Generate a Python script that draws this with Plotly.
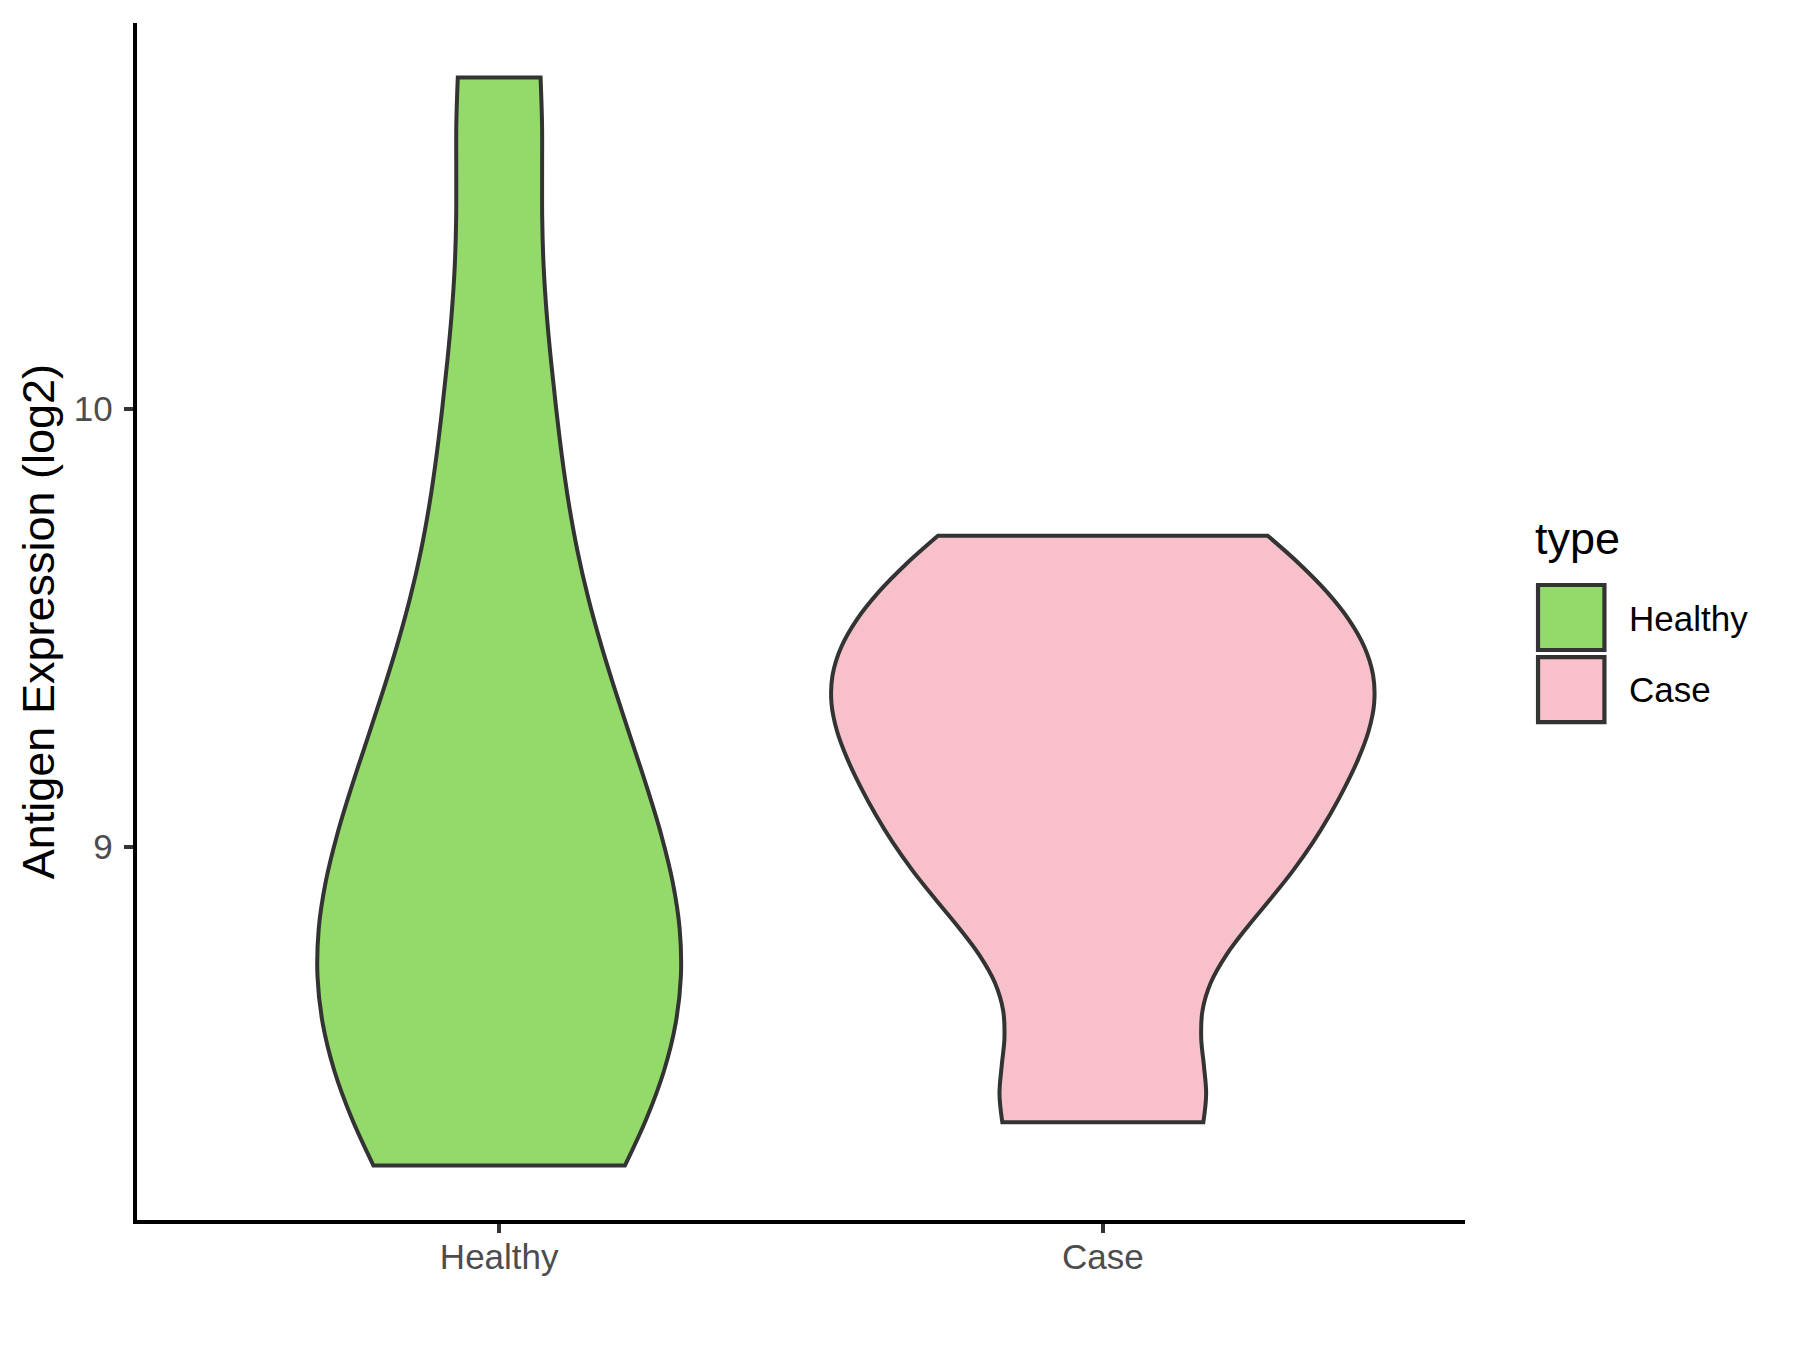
import numpy as np
import plotly.graph_objects as go

# sample values (log2 antigen expression), estimated from the violin outlines
healthy = [8.274, 8.304, 8.638, 8.730, 8.787, 9.037, 9.225, 9.521, 10.035, 10.755]
case = [8.373, 8.398, 8.790, 8.956, 9.006, 9.112, 9.278, 9.300, 9.370, 9.443,
        9.528, 9.682, 9.710]
groups = ["Healthy", "Case"]
fills = {"Healthy": "#93DA6B", "Case": "#F7C0CB"}
# violin widths relative to category spacing (area scaling in the original)
widths = {"Healthy": 0.602, "Case": 0.899}
FONT = "Liberation Sans, Arial, sans-serif"
OUTLINE = "#333333"


def nrd0(x):
    # R's default bandwidth, as used by ggplot
    x = np.asarray(x, dtype=float)
    sd = x.std(ddof=1)
    q25, q75 = np.percentile(x, [25, 75])
    lo = min(sd, (q75 - q25) / 1.34)
    return 0.9 * lo * len(x) ** -0.2


data = {"Healthy": healthy, "Case": case}

fig = go.Figure()
for g in groups:
    vals = data[g]
    fig.add_trace(go.Violin(
        x=[g] * len(vals),
        y=vals,
        name=g,
        bandwidth=nrd0(vals),
        spanmode="hard",
        width=widths[g],
        points=False,
        box_visible=False,
        meanline_visible=False,
        fillcolor=fills[g],
        opacity=1,
        line=dict(color=OUTLINE, width=4),
        showlegend=False,
        hoverinfo="skip",
    ))

allv = np.concatenate([healthy, case])
lo, hi = allv.min(), allv.max()
pad = 0.05 * (hi - lo)

fig.update_layout(
    width=1800, height=1350, autosize=False,
    margin=dict(l=137, r=335, t=23, b=130),
    paper_bgcolor="white", plot_bgcolor="white",
    violinmode="overlay",
    font=dict(family=FONT, color="black"),
)
fig.update_xaxes(
    type="category", categoryorder="array", categoryarray=groups,
    range=[-0.6, 1.6], showgrid=False, zeroline=False,
    showline=True, linecolor="black", linewidth=4.4,
    ticks="outside", ticklen=9, tickwidth=4, tickcolor=OUTLINE,
    tickfont=dict(family=FONT, size=35, color="#4D4D4D"),
    ticklabelstandoff=-6,
)
fig.update_yaxes(
    range=[lo - pad, hi + pad], tickvals=[9, 10], ticktext=["9", "10"],
    showgrid=False, zeroline=False,
    showline=True, linecolor="black", linewidth=4.4,
    ticks="outside", ticklen=9, tickwidth=4, tickcolor=OUTLINE,
    tickfont=dict(family=FONT, size=35, color="#4D4D4D"),
    ticklabelstandoff=4,
)

# y axis title
fig.add_annotation(
    text="Antigen Expression (log2)", xref="paper", yref="paper",
    x=-0.074, y=0.5, xanchor="center", yanchor="middle", textangle=-90,
    showarrow=False, font=dict(family=FONT, size=45, color="black"),
)

# legend, drawn ggplot style
fig.add_annotation(
    text="type", xref="paper", yref="paper", x=1.0515, y=0.569,
    xanchor="left", yanchor="middle", showarrow=False,
    font=dict(family=FONT, size=45, color="black"),
)
key_rows = [(0.5305, 0.4762, 0.5029), (0.4703, 0.4160, 0.4436)]
for g, (y0, y1, ym) in zip(groups, key_rows):
    fig.add_shape(
        type="rect", xref="paper", yref="paper", x0=1.0550, x1=1.1050, y0=y0, y1=y1,
        fillcolor=fills[g], line=dict(color=OUTLINE, width=4.2),
    )
    fig.add_annotation(
        text=g, xref="paper", yref="paper", x=1.122, y=ym,
        xanchor="left", yanchor="middle", showarrow=False,
        font=dict(family=FONT, size=35, color="black"),
    )

fig.write_html("out.html", config={"displayModeBar": False},
               post_script="document.body.style.margin='0';")
